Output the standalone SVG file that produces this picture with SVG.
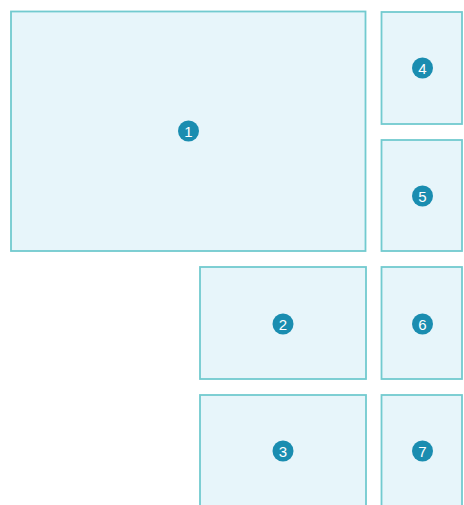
<svg xmlns="http://www.w3.org/2000/svg" width="464" height="505" viewBox="0 0 464 505">
<style>
.box{fill:#e7f5fa;stroke:#72cacf;stroke-width:1.8}
.badge{fill:#1a8db0}
.num{fill:#ffffff;font-family:"Liberation Sans",Arial,sans-serif;font-size:15px;text-anchor:middle;dominant-baseline:central}
</style>
<rect width="464" height="505" fill="#ffffff"/>
<g id="node1"><rect class="box" x="11" y="11.5" width="354.5" height="239.5"/><circle class="badge" cx="188.5" cy="131" r="10.5"/><text class="num" x="188.5" y="131.5">1</text></g>
<g id="node4"><rect class="box" x="381.5" y="12" width="80.5" height="112"/><circle class="badge" cx="422.5" cy="68" r="10.5"/><text class="num" x="422.5" y="68.5">4</text></g>
<g id="node5"><rect class="box" x="381.5" y="140" width="80.5" height="111"/><circle class="badge" cx="422.5" cy="196" r="10.5"/><text class="num" x="422.5" y="196.5">5</text></g>
<g id="node2"><rect class="box" x="200" y="267" width="166" height="112"/><circle class="badge" cx="283" cy="324" r="10.5"/><text class="num" x="283" y="324.5">2</text></g>
<g id="node6"><rect class="box" x="381.5" y="267" width="80.5" height="112"/><circle class="badge" cx="422.5" cy="324" r="10.5"/><text class="num" x="422.5" y="324.5">6</text></g>
<g id="node3"><rect class="box" x="200" y="395" width="166" height="120"/><circle class="badge" cx="283" cy="451" r="10.5"/><text class="num" x="283" y="451.5">3</text></g>
<g id="node7"><rect class="box" x="381.5" y="395" width="80.5" height="120"/><circle class="badge" cx="422.5" cy="451" r="10.5"/><text class="num" x="422.5" y="451.5">7</text></g>
<g id="connectors"></g>
</svg>
